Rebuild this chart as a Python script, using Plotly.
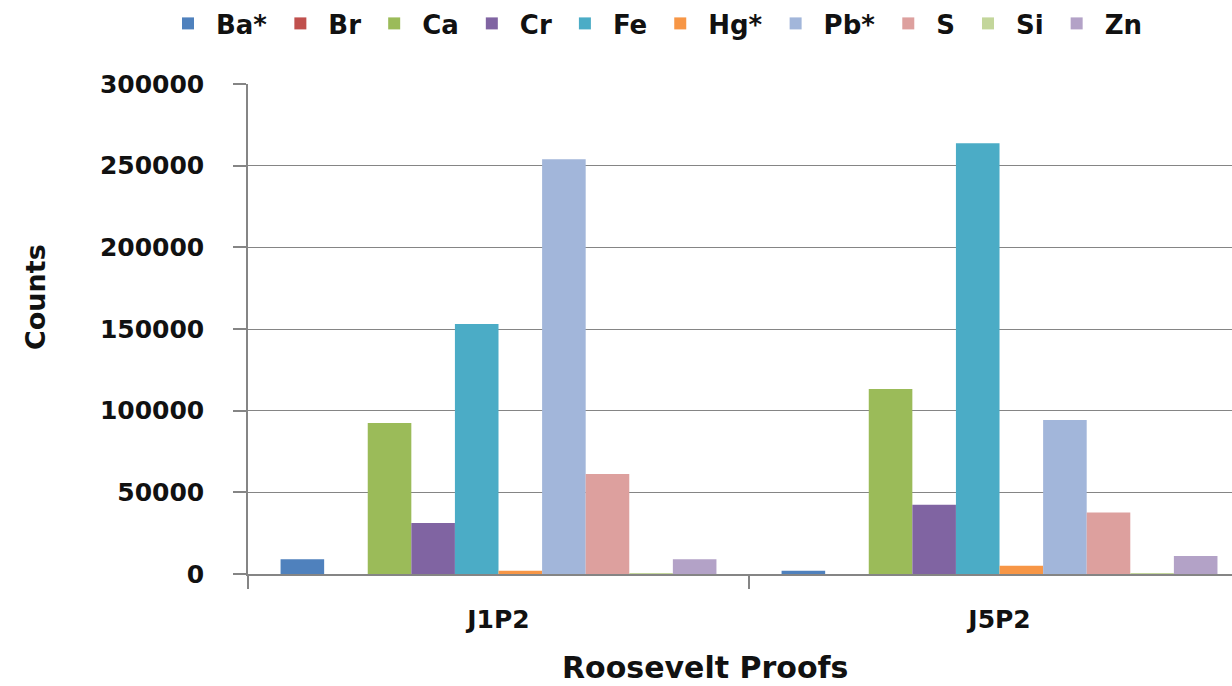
import plotly.graph_objects as go

categories = ["J1P2", "J5P2"]
elements = ["Ba*", "Br", "Ca", "Cr", "Fe", "Hg*", "Pb*", "S", "Si", "Zn"]
values = {
    "Ba*": [9000, 2000],
    "Br": [0, 0],
    "Ca": [92500, 113300],
    "Cr": [31200, 42400],
    "Fe": [153000, 263800],
    "Hg*": [2000, 5000],
    "Pb*": [254000, 94300],
    "S": [61300, 37700],
    "Si": [500, 500],
    "Zn": [9000, 11000],
}
colors = ["#4F81BD", "#C0504D", "#9BBB59", "#8064A2", "#4BACC6",
          "#F79646", "#A2B6DA", "#DDA09E", "#C3D69B", "#B3A2C7"]
y_ticks = [0, 50000, 100000, 150000, 200000, 250000, 300000]

FONT = "DejaVu Sans"
TXT = "#111111"
AX = "#858585"

fig = go.Figure()
for el, col in zip(elements, colors):
    fig.add_trace(go.Bar(name=el, x=categories, y=values[el],
                         marker=dict(color=col, line=dict(width=0))))

fig.update_layout(
    width=1232, height=686,
    barmode="group", bargap=0.13, bargroupgap=0,
    plot_bgcolor="white", paper_bgcolor="white",
    margin=dict(l=248, r=0, t=84, b=112),
    font=dict(family=FONT, color=TXT),
    legend=dict(orientation="h", x=160 / 1232, xanchor="left", xref="container",
                y=1.0, yref="container", yanchor="top",
                font=dict(size=26, family=FONT, weight="bold", color=TXT),
                itemwidth=46, traceorder="normal", tracegroupgap=0),
    showlegend=True,
    annotations=[
        dict(text="Counts", xref="paper", yref="paper",
             x=(35 - 248) / 984, y=(574 - 297) / 490, textangle=-90,
             showarrow=False, xanchor="center", yanchor="middle",
             font=dict(size=27, family=FONT, weight="bold", color=TXT)),
        dict(text="Roosevelt Proofs", xref="paper", yref="paper",
             x=(705 - 248) / 984, y=(574 - 667) / 490,
             showarrow=False, xanchor="center", yanchor="middle",
             font=dict(size=30, family=FONT, weight="bold", color=TXT)),
    ],
)
fig.update_xaxes(
    type="category", range=[-0.5, 1.464],
    tickson="boundaries", ticks="outside", ticklen=13, tickcolor=AX, tickwidth=1.5,
    showline=True, linecolor=AX, linewidth=1.5,
    showgrid=False,
    ticklabelstandoff=22,
    tickfont=dict(size=25, family=FONT, weight="bold", color=TXT),
)
fig.update_yaxes(
    range=[0, 300000], tickvals=y_ticks, ticktext=[str(v) for v in y_ticks],
    ticks="outside", ticklen=13, tickcolor=AX, tickwidth=1.5,
    showline=True, linecolor=AX, linewidth=1.5,
    showgrid=True, gridcolor=AX, gridwidth=1.3,
    zeroline=False,
    ticklabelstandoff=24,
    tickfont=dict(size=25, family=FONT, weight="bold", color=TXT),
)
fig.write_html("out.html")
